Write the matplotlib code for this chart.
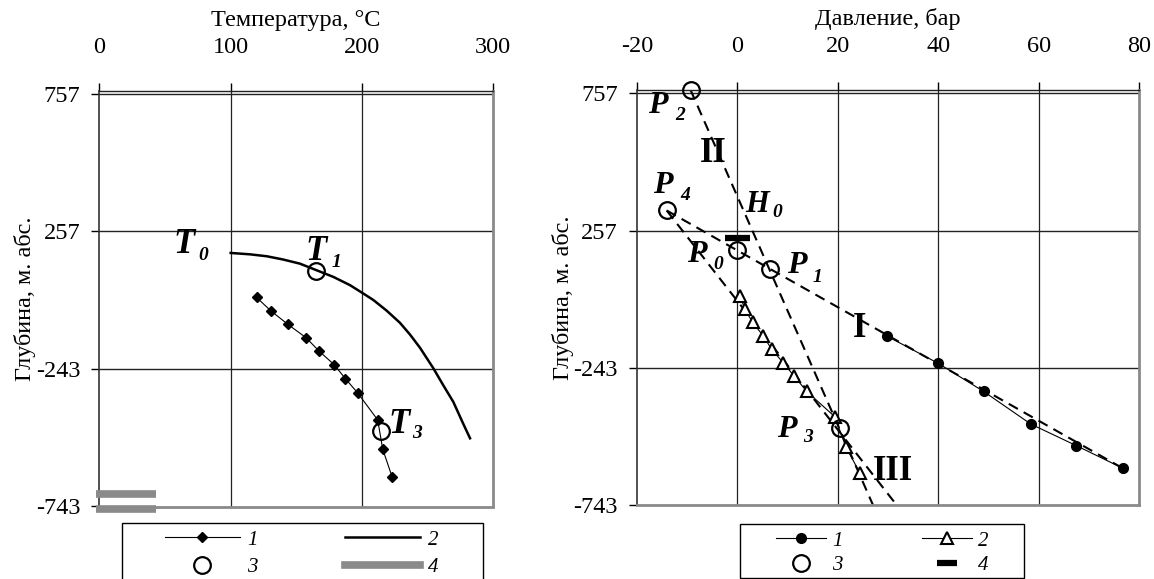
import matplotlib
matplotlib.use('Agg')
import matplotlib.pyplot as plt
from matplotlib.lines import Line2D
from matplotlib.patches import Rectangle

plt.rcParams['font.family'] = ['Liberation Serif', 'DejaVu Serif']
plt.rcParams['axes.unicode_minus'] = False
plt.rcParams['font.size'] = 17.5

# ---------------- data ----------------
depth_ticks = [757, 257, -243, -743]
depth_grid = [757, 257, -243]

# left panel: temperature
temp_ticks = [0, 100, 200, 300]
temp_grid = [100, 200]
s1_temp = [119.9, 130.6, 143.8, 157.5, 167.5, 178.9, 187.5, 196.9, 212.1, 216.0, 223.1]
s1_depth = [17, -31, -81, -129, -178, -227, -278, -330, -428, -535, -635]
s2_temp = [100.1, 114.8, 127.6, 140.2, 152.9, 165.1, 178.3, 191.0, 200.0, 208.8,
           219.0, 229.1, 236.8, 244.4, 254.5, 262.1, 269.8, 277.4, 282.5]
s2_depth = [179, 174, 167, 155, 140, 117, 92, 62, 35, 8,
            -31, -75, -118, -166, -240, -302, -363, -443, -495]
s3_temp = [165.4, 214.7]          # T1, T3
s3_depth = [115, -467]
s4_temp = [-2.5, 43.0]
s4_depth = [-696, -751]

# right panel: pressure
pres_ticks = [-20, 0, 20, 40, 60, 80]
pres_grid = [0, 20, 40, 60]
r1_pres = [29.7, 40.0, 49.0, 58.4, 67.5, 76.7]
r1_depth = [-127, -227, -329, -448, -527, -609]
r2_pres = [0.54, 1.53, 3.06, 5.17, 6.85, 9.15, 11.34, 13.81, 19.44, 21.57, 24.42]
r2_depth = [19, -30, -78, -127, -176, -225, -274, -329, -422, -530, -627]
r3_pres = [-9.3, -14.05, 0.0, 6.5, 20.4]      # P2, P4, P0, P1, P3
r3_depth = [769, 330, 187, 117, -462]
r4_pres = [0.0]
r4_depth = [230]
lineI_pres = [-14.05, 76.7]
lineI_depth = [330, -609]
lineII_pres = [-9.3, 27.0]
lineII_depth = [769, -743]
lineIII_pres = [-14.05, 31.7]
lineIII_depth = [330, -743]

W, H = 1154, 579
fig = plt.figure(figsize=(W / 100, H / 100), dpi=100)


def fx(px):
    return px / W


def fy(py):
    return 1 - py / H


axL = fig.add_axes([fx(99.3), fy(506.5), fx(493) - fx(99.3), fy(90.7) - fy(506.5)])
axR = fig.add_axes([fx(636.8), fy(505), fx(1139.3) - fx(636.8), fy(90) - fy(505)])

GRAY = '#8a8a8a'


def style(ax, xlim, xticks, xgrid, xlabel):
    ax.set_xlim(*xlim)
    ax.set_ylim(-743, 769)
    ax.xaxis.tick_top()
    ax.xaxis.set_label_position('top')
    ax.set_xticks(xticks)
    ax.set_xticklabels([str(v) for v in xticks])
    ax.set_yticks(depth_ticks)
    ax.set_yticklabels([str(v) for v in depth_ticks])
    ax.tick_params(axis='both', direction='out', length=5.5, width=1.0,
                   labelsize=17.5, colors='black')
    ax.tick_params(axis='x', pad=18)
    ax.tick_params(axis='y', pad=8)
    for g in xgrid:
        ax.axvline(g, color='#222222', lw=0.9, zorder=0.5)
    for g in depth_grid:
        ax.axhline(g, color='#222222', lw=1.0, zorder=0.5)
    ax.spines['top'].set_color('#222222')
    ax.spines['top'].set_linewidth(1.0)
    ax.spines['left'].set_color('#333333')
    ax.spines['left'].set_linewidth(1.2)
    for s in ('right', 'bottom'):
        ax.spines[s].set_color(GRAY)
        ax.spines[s].set_linewidth(2.0)
    ax.set_xlabel(xlabel, fontsize=17.5, labelpad=8)
    ax.set_ylabel('Глубина, м. абс.', fontsize=17.5, labelpad=0)


style(axL, (0, 300), temp_ticks, temp_grid, 'Температура, °C')
style(axR, (-20, 80), pres_ticks, pres_grid, 'Давление, бар')

# ---- left panel marks ----
axL.plot(s1_temp, s1_depth, color='black', lw=0.8, marker='D', ms=5,
         mfc='black', mec='black', zorder=3)
axL.plot(s2_temp, s2_depth, color='black', lw=1.8, zorder=3,
         solid_joinstyle='round')
axL.plot(s3_temp, s3_depth, ls='none', marker='o', ms=12, mfc='none',
         mec='black', mew=1.6, zorder=4)
for d in s4_depth:
    axL.plot(s4_temp, [d, d], color=GRAY, lw=5.5, solid_capstyle='butt',
             clip_on=False, zorder=4)

# ---- right panel marks ----
dash = (0, (5, 3.2))
axR.plot(lineI_pres, lineI_depth, color='black', lw=1.5, ls=dash, zorder=2)
axR.plot(lineII_pres, lineII_depth, color='black', lw=1.5, ls=dash, zorder=2)
axR.plot(lineIII_pres, lineIII_depth, color='black', lw=1.5, ls=dash, zorder=2)
axR.plot(r1_pres, r1_depth, color='black', lw=0.8, marker='o', ms=7,
         mfc='black', mec='black', zorder=3)
axR.plot(r2_pres, r2_depth, color='black', lw=0.8, marker='^', ms=8,
         mfc='white', mec='black', mew=1.5, zorder=3)
axR.plot(r3_pres, r3_depth, ls='none', marker='o', ms=12, mfc='none',
         mec='black', mew=1.6, zorder=4, clip_on=False)
axR.plot(r4_pres, r4_depth, ls='none', marker='_', ms=18, mew=4.5,
         color='black', zorder=4)


# ---- point labels ----
def tag(main, x, y, size=23, sub=None, sx=None, sy=None, ssize=14, italic=True):
    fig.text(fx(x), fy(y), main, fontsize=size, fontweight='bold',
             fontstyle='italic' if italic else 'normal', ha='left', va='baseline')
    if sub is not None:
        fig.text(fx(sx), fy(sy), sub, fontsize=ssize, fontweight='bold',
                 fontstyle='italic', ha='left', va='baseline')


tag('T', 173, 253, 25, '0', 198, 260)
tag('T', 305, 260, 25, '1', 332, 267)
tag('T', 388, 433, 25, '3', 412, 438)
tag('P', 648, 113, 23, '2', 675, 120)
tag('P', 653, 193, 23, '4', 680, 200)
tag('H', 745, 212, 22, '0', 772, 217)
tag('P', 687, 262, 23, '0', 713, 269)
tag('P', 787, 273, 23, '1', 813, 282)
tag('P', 777, 437, 23, '3', 803, 442)
tag('II', 700, 162, 25, italic=False)
tag('I', 853, 337, 25, italic=False)
tag('III', 873, 480, 25, italic=False)

# ---- legends ----
legprop = {'family': ['Liberation Serif'], 'style': 'italic', 'size': 15}

hL1 = Line2D([], [], color='black', lw=0.8, marker='D', ms=5)
hL2 = Line2D([], [], color='black', lw=1.8)
hL3 = Line2D([], [], ls='none', marker='o', ms=12, mfc='none', mec='black', mew=1.6)
hL4 = Line2D([], [], color=GRAY, lw=5.5)
legL = fig.legend([hL1, hL3, hL2, hL4], ['1', '3', '2', '4'], ncol=2,
                  loc='upper left', bbox_to_anchor=(fx(165), fy(530)),
                  frameon=False, prop=legprop, handlelength=3.6,
                  handletextpad=0.35, columnspacing=4.2, labelspacing=0.4,
                  borderpad=0, borderaxespad=0, numpoints=1)

hR1 = Line2D([], [], color='black', lw=0.8, marker='o', ms=7)
hR2 = Line2D([], [], color='black', lw=0.8, marker='^', ms=8, mfc='white', mew=1.5)
hR3 = Line2D([], [], ls='none', marker='o', ms=12, mfc='none', mec='black', mew=1.6)
hR4 = Line2D([], [], ls='none', marker='_', ms=14, mew=4.5, color='black')
legR = fig.legend([hR1, hR3, hR2, hR4], ['1', '3', '2', '4'], ncol=2,
                  loc='upper left', bbox_to_anchor=(fx(776), fy(531)),
                  frameon=False, prop=legprop, handlelength=2.4,
                  handletextpad=0.3, columnspacing=3.8, labelspacing=0.25,
                  borderpad=0, borderaxespad=0, numpoints=1)

fig.add_artist(Rectangle((fx(121.7), fy(600)), fx(483) - fx(121.7), fy(523) - fy(600),
                         transform=fig.transFigure, fill=False, ec='black', lw=1.0))
fig.add_artist(Rectangle((fx(739.6), fy(578.3)), fx(1024) - fx(739.6), fy(523.6) - fy(578.3),
                         transform=fig.transFigure, fill=False, ec='black', lw=1.0))

fig.savefig('out.png', dpi=100)
